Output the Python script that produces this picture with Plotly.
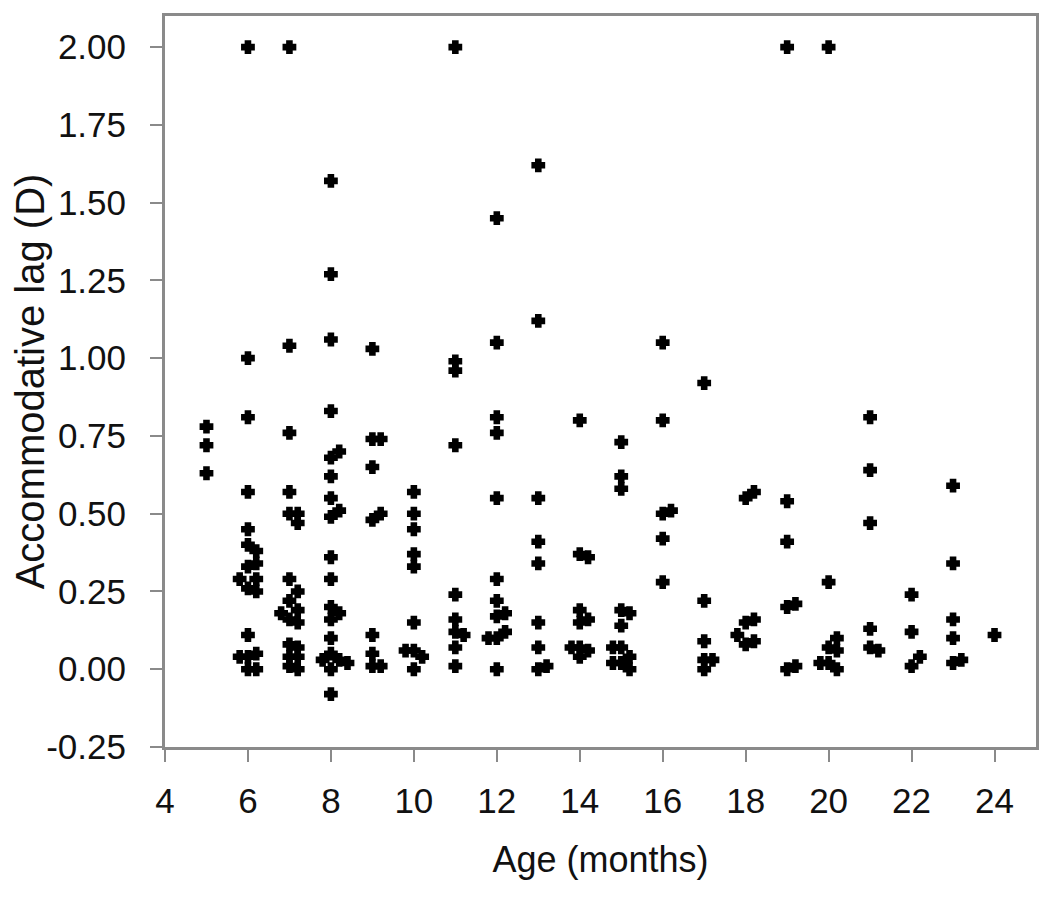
import plotly.graph_objects as go

# Age (months, with the small horizontal offsets used in the original to separate overlapping points)
age_months = [
    5, 5, 5,
    6, 6, 6, 6, 6, 6, 6.2, 6.2, 6, 5.8, 6.2, 6, 6.2, 6, 6.2, 6, 5.8, 6, 6.2,
    7, 7, 7, 7, 7, 7.2, 7.2, 7, 7.2, 7, 7.2, 6.8, 7, 7.2, 7, 7.2, 7, 7.2, 7, 7.2,
    8, 8, 8, 8, 8.2, 8, 8, 8, 8.2, 8, 8, 8, 8, 8.2, 8, 8, 8, 7.8, 8.2, 8.4, 8, 8,
    9, 9, 9.2, 9, 9.2, 9, 9, 9, 9, 9.2,
    10, 10, 10, 10, 10, 10, 9.8, 10, 10.2, 10,
    11, 11, 11, 11, 11, 11, 11, 11.2, 11, 11,
    12, 12, 12, 12, 12, 12, 12, 12.2, 12, 12.2, 11.8, 12, 12,
    13, 13, 13, 13, 13, 13, 13, 13.2, 13,
    14, 14, 14.2, 14, 14.2, 14, 13.8, 14, 14.2, 14,
    15, 15, 15, 15, 15.2, 15, 14.8, 15, 15.2, 14.8, 15, 15.2,
    16, 16, 16.2, 16, 16, 16,
    17, 17, 17, 17, 17.2, 17,
    18.2, 18, 18, 18.2, 17.8, 18, 18.2,
    19, 19, 19, 19, 19.2, 19, 19.2,
    20, 20, 20.2, 20, 20.2, 19.8, 20, 20.2,
    21, 21, 21, 21, 21, 21.2,
    22, 22, 22.2, 22,
    23, 23, 23, 23, 23.2, 23,
    24,
]

# Accommodative lag (D)
lag_d = [
    0.78, 0.72, 0.63,
    2.00, 1.00, 0.81, 0.57, 0.45, 0.40, 0.38, 0.34, 0.33, 0.29, 0.29, 0.26, 0.25, 0.11, 0.05, 0.04, 0.04, 0.00, 0.00,
    2.00, 1.04, 0.76, 0.57, 0.50, 0.50, 0.47, 0.29, 0.25, 0.22, 0.19, 0.18, 0.16, 0.15, 0.08, 0.07, 0.04, 0.04, 0.01, 0.00,
    1.57, 1.27, 1.06, 0.83, 0.70, 0.68, 0.62, 0.55, 0.51, 0.49, 0.36, 0.29, 0.20, 0.18, 0.16, 0.10, 0.05, 0.03, 0.03, 0.02, 0.00, -0.08,
    1.03, 0.74, 0.74, 0.65, 0.50, 0.48, 0.11, 0.05, 0.01, 0.01,
    0.57, 0.50, 0.45, 0.37, 0.33, 0.15, 0.06, 0.06, 0.04, 0.00,
    2.00, 0.99, 0.96, 0.72, 0.24, 0.16, 0.12, 0.11, 0.07, 0.01,
    1.45, 1.05, 0.81, 0.76, 0.55, 0.29, 0.22, 0.18, 0.17, 0.12, 0.10, 0.10, 0.00,
    1.62, 1.12, 0.55, 0.41, 0.34, 0.15, 0.07, 0.01, 0.00,
    0.80, 0.37, 0.36, 0.19, 0.16, 0.15, 0.07, 0.07, 0.06, 0.04,
    0.73, 0.62, 0.58, 0.19, 0.18, 0.14, 0.07, 0.07, 0.04, 0.02, 0.02, 0.00,
    1.05, 0.80, 0.51, 0.50, 0.42, 0.28,
    0.92, 0.22, 0.09, 0.03, 0.03, 0.00,
    0.57, 0.55, 0.15, 0.16, 0.11, 0.08, 0.09,
    2.00, 0.54, 0.41, 0.20, 0.21, 0.00, 0.01,
    2.00, 0.28, 0.10, 0.07, 0.06, 0.02, 0.02, 0.00,
    0.81, 0.64, 0.47, 0.13, 0.07, 0.06,
    0.24, 0.12, 0.04, 0.01,
    0.59, 0.34, 0.16, 0.10, 0.03, 0.02,
    0.11,
]

x_tick_vals = [4, 6, 8, 10, 12, 14, 16, 18, 20, 22, 24]
y_tick_vals = [-0.25, 0.0, 0.25, 0.5, 0.75, 1.0, 1.25, 1.5, 1.75, 2.0]
y_tick_text = ["-0.25", "0.00", "0.25", "0.50", "0.75", "1.00", "1.25", "1.50", "1.75", "2.00"]

FONT = "Liberation Sans, Arial, sans-serif"
AXIS_GREY = "#8a8a8a"
TEXT = "#111111"

fig = go.Figure(
    go.Scatter(
        x=age_months,
        y=lag_d,
        mode="markers",
        marker=dict(symbol="cross", size=9, color="black",
                    line=dict(color="black", width=3)),
        showlegend=False,
        hoverinfo="x+y",
    )
)

fig.update_layout(
    width=1050,
    height=898,
    margin=dict(l=157, r=22, t=8, b=159, autoexpand=False),
    paper_bgcolor="white",
    plot_bgcolor="white",
    font=dict(family=FONT, color=TEXT),
)

fig.update_xaxes(
    range=[4, 25],
    tickvals=x_tick_vals,
    ticks="outside",
    ticklen=12,
    tickwidth=2,
    tickcolor=AXIS_GREY,
    showline=True,
    linecolor=AXIS_GREY,
    linewidth=3,
    mirror=True,
    showgrid=False,
    zeroline=False,
    automargin=False,
    tickfont=dict(size=35, family=FONT, color=TEXT),
    ticklabelstandoff=9,
    title=dict(text="Age (months)", font=dict(size=36, family=FONT, color=TEXT), standoff=28),
)

fig.update_yaxes(
    range=[-0.25, 2.10],
    tickvals=y_tick_vals,
    ticktext=y_tick_text,
    ticks="outside",
    ticklen=12,
    tickwidth=2,
    tickcolor=AXIS_GREY,
    showline=True,
    linecolor=AXIS_GREY,
    linewidth=3,
    mirror=True,
    showgrid=False,
    zeroline=False,
    automargin=False,
    tickfont=dict(size=35, family=FONT, color=TEXT),
    ticklabelstandoff=17,
    title=dict(text="Accommodative lag (D)", font=dict(size=40, family=FONT, color=TEXT), standoff=10),
)

fig.write_html("out.html")
